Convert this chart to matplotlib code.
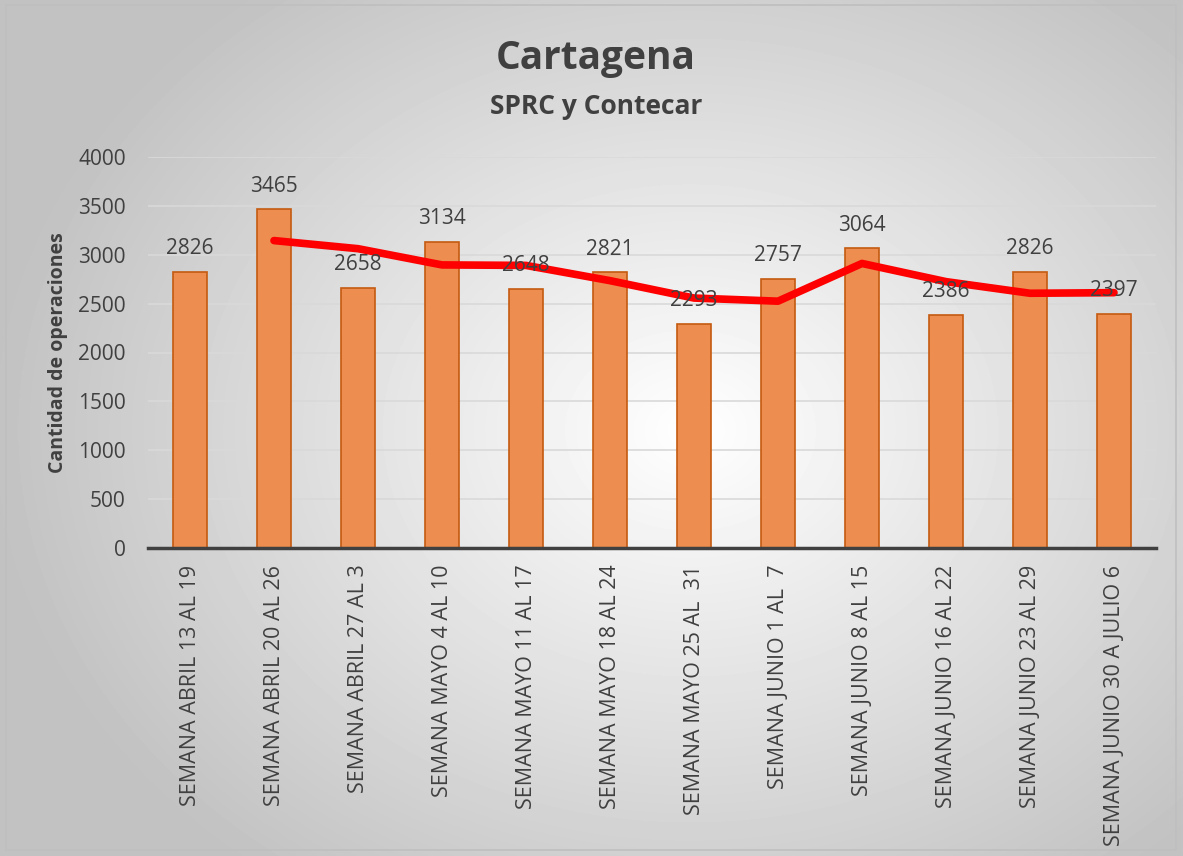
import numpy as np
import matplotlib
matplotlib.use("Agg")
import matplotlib.pyplot as plt

plt.rcParams['font.family'] = ['Open Sans', 'DejaVu Sans']

semanas = ["SEMANA ABRIL 13 AL 19", "SEMANA ABRIL 20 AL 26", "SEMANA ABRIL 27 AL 3",
           "SEMANA MAYO 4 AL 10", "SEMANA MAYO 11 AL 17", "SEMANA MAYO 18 AL 24",
           "SEMANA MAYO 25 AL  31", "SEMANA JUNIO 1 AL  7", "SEMANA JUNIO 8 AL 15",
           "SEMANA JUNIO 16 AL 22", "SEMANA JUNIO 23 AL 29", "SEMANA JUNIO 30 A JULIO 6"]
operaciones = [2826, 3465, 2658, 3134, 2648, 2821, 2293, 2757, 3064, 2386, 2826, 2397]
# red trend line (starts at second week)
tendencia = [np.nan, 3145, 3062, 2896, 2891, 2735, 2557, 2525, 2911, 2725, 2606, 2612]

txt = '#404040'
fig = plt.figure(figsize=(11.83, 8.56), dpi=100)

# radial gradient background
bg = fig.add_axes([0, 0, 1, 1])
yy, xx = np.mgrid[0:856, 0:1183]
r = np.sqrt(((xx - 690) / 700.0) ** 2 + ((yy - 430) / 560.0) ** 2)
g = np.clip(1.0 - 0.24 * r, 0.76, 1.0)
bg.imshow(g, cmap='gray', vmin=0, vmax=1, extent=[0, 1183, 856, 0], aspect='auto')
bg.add_patch(plt.Rectangle((6, 5), 1170, 845, fill=False, ec='#bfbfbf', lw=1.2))
bg.set_xlim(0, 1183)
bg.set_ylim(856, 0)
bg.axis('off')

ax = fig.add_axes([148 / 1183, 1 - 548 / 856, 1008 / 1183, 391 / 856])
ax.patch.set_alpha(0)
x = np.arange(len(semanas))
bars = ax.bar(x, operaciones, width=0.4, color='#ED8E50', edgecolor='#C55A11', lw=1.2, zorder=2)
ax.plot(x, tendencia, color='#FF0000', lw=5.5, solid_capstyle='round', zorder=3)
for xi, v in zip(x, operaciones):
    ax.text(xi, v + 130, str(v), ha='center', va='bottom', fontsize=15, color=txt, zorder=4)

ax.set_xlim(-0.5, len(semanas) - 0.5)
ax.set_ylim(0, 4000)
ax.set_yticks(range(0, 4001, 500))
ax.grid(axis='y', color='#d9d9d9', lw=1.2, zorder=0)
ax.set_axisbelow(True)
for s in ['top', 'right', 'left']:
    ax.spines[s].set_visible(False)
ax.spines['bottom'].set_color('#404040')
ax.spines['bottom'].set_linewidth(2.5)
ax.spines['bottom'].set_zorder(5)
ax.tick_params(axis='both', length=0, colors=txt, labelsize=15)
ax.tick_params(axis='y', pad=16)
ax.tick_params(axis='x', pad=12)
ax.set_xticks(x)
ax.set_xticklabels(semanas, rotation=90, fontsize=15.5)
ax.set_ylabel('Cantidad de operaciones', fontsize=14, fontweight='bold', color=txt, labelpad=7)

fig.text(596 / 1183, 1 - 58 / 856, 'Cartagena', ha='center', va='center', fontsize=28,
         fontweight='bold', color=txt)
fig.text(596 / 1183, 1 - 106 / 856, 'SPRC y Contecar', ha='center', va='center', fontsize=19,
         fontweight='bold', color=txt)

fig.savefig('out.png', dpi=100)
